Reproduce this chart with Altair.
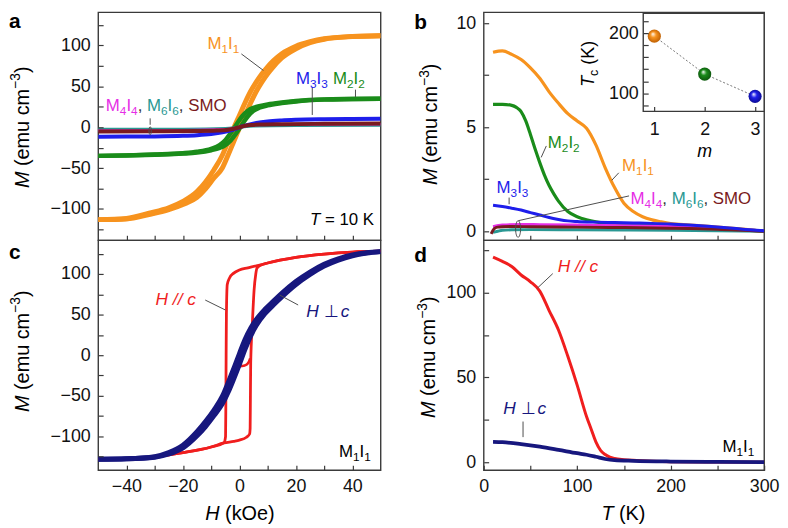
import altair as alt
import pandas as pd

FONT = "Liberation Sans"
AXC = "#3a3a3a"
LEAD = "#4d4d4d"
C_OR = "#F7931E"
C_GR = "#1A8C1A"
C_BL = "#1E1EEB"
C_MA = "#E62EE6"
C_TE = "#2A9893"
C_SM = "#7A1A20"
C_RD = "#F01E1E"
C_NV = "#17177E"

# ---------------- panel a : M(H) at T = 10 K ----------------
a_or_H = [-50, -40, -32, -25, -20, -15, -12, -9, -6, -4, -2, 0, 2, 4, 6, 8, 10, 12, 15, 20, 25, 30, 40, 50]
a_or_up = [-113, -112.1, -106.8, -100.9, -94.5, -85.7, -75.3, -62, -49.5, -34, -17.5, -1, 14.5, 30, 44, 55.5, 65.5, 74, 84.7, 96, 103.4, 107.7, 110.9, 112]
a_or_dn = [-113, -111.5, -105.1, -98.6, -90.8, -78.7, -67, -52, -34, -17.5, -1, 14.5, 30, 44, 55.5, 65.5, 74, 81.3, 90, 99.2, 104.6, 108.3, 111.1, 112]

a_gr_H = [-50, -40, -30, -20, -15, -10, -7, -5, -3, -1, 1, 3, 5, 7, 10, 15, 20, 30, 40, 50]
a_gr_up = [-35, -34.6, -33.6, -32.2, -30.9, -28.1, -25.2, -21.8, -15.8, -6.8, 3.8, 13.5, 20.3, 23.8, 26.7, 29.5, 31.6, 33.8, 34.45, 35]
a_gr_dn = [-35, -34.4, -33.3, -31.7, -29.9, -26.3, -21.8, -15.8, -6.8, 3.8, 13.5, 20.3, 23.8, 25.8, 28, 30.4, 32.2, 34.1, 34.6, 35]

a_bl_H = [-50, -40, -30, -20, -15, -10, -6, -3, -1, 0, 1, 3, 6, 10, 15, 20, 30, 40, 50]
a_bl_M = [-11.5, -11.4, -11.2, -10.5, -9.7, -8.3, -6.3, -3.8, -1.5, -0.3, 1, 3, 5.3, 7.2, 8.4, 9.1, 9.8, 10.2, 10.5]

a_sm_H = [-50, -30, -15, -8, -4, -2, 0, 2, 4, 8, 15, 30, 50]
a_sm_M = [-5.2, -5, -4.6, -4, -3, -1.8, 0, 1.8, 2.8, 3.4, 3.8, 4.2, 4.5]

a_ma_H = [-50, -20, -5, 0, 5, 20, 50]
a_ma_M = [-4, -3.5, -2.5, 0, 2.8, 3.3, 3.6]

a_te_H = [-50, -20, -5, 0, 5, 20, 50]
a_te_M = [-2.5, -2.3, -1.5, 0, 1.5, 2.2, 2.5]

# ---------------- panel c : M1I1 loops ----------------
c_rd_dn_H = [-50, -40, -30, -20, -10, -5.5, -4.9, -4.8, -4.7, -4.6, -4.3, -3.5, -2, 0, 3, 6, 8, 10, 20, 30, 40, 50]
c_rd_dn_M = [-128, -127, -125, -120, -113, -108, -100, -60, 0, 50, 87, 95, 101, 105, 107.5, 110, 111.5, 113.5, 120.5, 124.5, 127, 128]
c_rd_up_H = [-50, -40, -30, -20, -10, -5.5, -2, 0, 2.5, 3.6, 3.8, 3.9, 4.0, 4.6, 5.2, 5.8, 6.2, 8, 10, 20, 30, 40, 50]
c_rd_up_M = [-128, -127, -125, -120, -113, -108, -106, -104.5, -101, -97, -90, -50, -10, 40, 80, 100, 107, 111.5, 113.5, 120.5, 124.5, 127, 128]
c_rd_v_H = [0.2, 1.5, 2.6, 3.3, 3.8]
c_rd_v_M = [-13.5, -13, -11.5, -8.5, -4]

c_nv_H = [-50, -40, -30, -25, -20, -15, -12, -9, -6, -4, -2, 0, 2, 4, 6, 9, 12, 15, 20, 25, 30, 35, 40, 45, 50]
c_nv_up = [-128, -127.5, -125.6, -121.6, -114.1, -99.2, -87.8, -74.3, -59.5, -45.6, -29, -11.3, 7.4, 23.8, 36.8, 51, 61.7, 71.7, 86.9, 99.3, 109.6, 117, 122.3, 125.6, 127.5]
c_nv_dn = [-128, -127.4, -124.9, -119.9, -110.8, -94.2, -81.7, -67.5, -50.4, -34, -16.7, 1.7, 19.3, 33.2, 44, 56.3, 66.3, 76.1, 90.7, 102.4, 112, 118.7, 123.4, 126.2, 127.5]

# ---------------- panel b : M(T) ----------------
b_or_T = [10, 20, 30, 40, 50, 60, 70, 80, 90, 100, 110, 120, 130, 140, 150, 160, 170, 180, 190, 200, 220, 240, 260, 280, 300]
b_or_M = [8.6, 8.67, 8.5, 8.25, 7.85, 7.35, 6.7, 6.15, 5.65, 5.3, 4.95, 4.15, 3.05, 2.1, 1.35, 0.95, 0.7, 0.55, 0.45, 0.37, 0.3, 0.24, 0.17, 0.09, 0.0]
b_gr_T = [10, 20, 30, 35, 40, 45, 50, 55, 60, 65, 70, 75, 80, 90, 100, 110, 120, 140, 160, 180, 200, 250, 300]
b_gr_M = [6.1, 6.1, 6.05, 5.95, 5.75, 5.3, 4.65, 3.95, 3.3, 2.7, 2.2, 1.8, 1.45, 0.95, 0.7, 0.55, 0.45, 0.35, 0.3, 0.27, 0.24, 0.15, 0.0]
b_bl_T = [10, 20, 30, 40, 50, 60, 70, 80, 90, 100, 120, 140, 160, 180, 200, 220, 240, 260, 280, 300]
b_bl_M = [1.25, 1.19, 1.11, 1.02, 0.9, 0.78, 0.66, 0.57, 0.5, 0.47, 0.44, 0.42, 0.4, 0.38, 0.35, 0.3, 0.24, 0.17, 0.09, 0.02]
b_sm_T = [8, 10, 12, 15, 20, 30, 50, 100, 150, 200, 250, 300]
b_sm_M = [-0.12, 0.05, 0.15, 0.2, 0.22, 0.23, 0.22, 0.2, 0.18, 0.15, 0.1, 0.0]
b_ma_T = [10, 20, 40, 60, 100, 150, 200, 250, 300]
b_ma_M = [0.22, 0.3, 0.33, 0.32, 0.3, 0.27, 0.23, 0.15, 0.02]
b_te_T = [10, 15, 20, 30, 50, 100, 150, 200, 250, 300]
b_te_M = [-0.05, 0.0, 0.05, 0.07, 0.08, 0.07, 0.06, 0.05, 0.03, 0.0]

# inset: Tc vs m
inset_m = [1, 2, 3]
inset_Tc = [195, 132, 95]
inset_col = [C_OR, C_GR, C_BL]
inset_dark = ["#B85A00", "#0B4F0B", "#0A0A8A"]

# ---------------- panel d : M1I1 M(T) ----------------
d_rd_T = [10, 20, 30, 40, 50, 60, 70, 80, 90, 100, 110, 115, 120, 125, 130, 135, 140, 150, 160, 180, 200, 250, 300]
d_rd_M = [121, 118.5, 115.5, 110.5, 106.5, 101, 89.5, 78, 62.5, 45.5, 27, 19.5, 12, 7, 4.5, 3, 2.2, 1.5, 1.1, 0.6, 0.3, 0.1, 0]
d_nv_T = [10, 20, 40, 60, 80, 100, 110, 120, 130, 140, 160, 200, 250, 300]
d_nv_M = [12, 11.8, 10.7, 9.2, 7.3, 5.3, 4.4, 3.2, 1.9, 1.2, 0.8, 0.4, 0.2, 0.1]

# ---------------- helpers ----------------
W = {" ": 278, "(": 333, ")": 333, ",": 278, "/": 278, "=": 584, "\u2212": 584,
     "M": 833, "I": 278, "S": 667, "O": 778, "H": 722, "T": 611, "K": 667,
     "k": 500, "e": 556, "m": 833, "u": 556, "c": 500, "\u22a5": 700,
     "a": 556, "b": 556, "d": 556}


def tw(s, size):
    return sum(W.get(ch, 556) for ch in s) * size / 1000.0


ONE = alt.Data(values=[{"k": 0}])


def rich(pieces, x, y, size=17, align="left", angle=0, pix=False, weight="normal", XA=None, YA=None):
    sizes = [size * 0.7 if p[1] in ("sub", "sup") else size for p in pieces]
    widths = [tw(p[0], s) for p, s in zip(pieces, sizes)]
    total = sum(widths)
    off = {"left": 0, "center": -total / 2, "right": -total}[align]
    out = []
    for p, s, w in zip(pieces, sizes, widths):
        raw, kind = p[0], p[1]
        lead = len(raw) - len(raw.lstrip(" "))
        t = raw.strip(" ")
        col = p[2] if len(p) > 2 else "#000000"
        dy = 0.25 * size if kind == "sub" else (-0.42 * size if kind == "sup" else 0)
        style = "italic" if kind == "i" else "normal"
        if t:
            m = alt.Chart(ONE).mark_text(text=t, align="left", baseline="alphabetic",
                                         dx=off + tw(" " * lead, s), dy=dy,
                                         fontSize=s, font=FONT, fontStyle=style, fontWeight=weight,
                                         color=col, angle=angle)
            if pix:
                m = m.encode(x=alt.value(x), y=alt.value(y))
            else:
                m = m.encode(x=alt.XDatum(x, axis=XA), y=alt.YDatum(y, axis=YA))
            out.append(m)
        off += w
    return out


def leader(x1, y1, x2, y2, XA, YA, color=LEAD):
    return alt.Chart(ONE).mark_rule(color=color, strokeWidth=1).encode(
        x=alt.XDatum(x1, axis=XA), y=alt.YDatum(y1, axis=YA),
        x2=alt.X2Datum(x2), y2=alt.Y2Datum(y2))


ELL = "M0,-1A0.3,1 0 1,1 0,1A0.3,1 0 1,1 0,-1Z"


def ellipse(x, y, size, XA, YA):
    return alt.Chart(ONE).mark_point(shape=ELL, size=size, filled=False, stroke=LEAD, strokeWidth=1, opacity=1).encode(
        x=alt.XDatum(x, axis=XA), y=alt.YDatum(y, axis=YA))


def ax(values, mod=None, labels=True, offset=-5, pad=8, orient=None):
    kw = dict(values=values, tickSize=5, offset=offset, domain=False, grid=False, title=None,
              labelPadding=pad, labelFlush=False, labelOverlap=False, labelFont=FONT,
              labelFontSize=18, labelColor="#111111", tickColor=AXC, tickWidth=1.2, format="d", zindex=1)
    if not labels:
        kw["labels"] = False
    elif mod:
        kw["labelExpr"] = "datum.value %% %s === 0 ? datum.label : ''" % mod
    if orient:
        kw["orient"] = orient
    return alt.Axis(**kw)


def curve(xs, ys, color, width, XS, YS, XA, YA):
    df = pd.DataFrame({"x": xs, "y": ys, "i": list(range(len(xs)))})
    return alt.Chart(df).mark_line(color=color, strokeWidth=width, interpolate="monotone", clip=True,
                                   strokeJoin="round").encode(
        x=alt.X("x:Q", scale=XS, axis=XA), y=alt.Y("y:Q", scale=YS, axis=YA), order="i:Q")


def sub2(a, b, col):
    return [("M", "n", col), (a, "sub", col), ("I", "n", col), (b, "sub", col)]


MULTI = sub2("4", "4", C_MA) + [(", ", "n", "#333333")] + sub2("6", "6", C_TE) + \
        [(", ", "n", "#333333"), ("SMO", "n", C_SM)]
YTITLE = [("M", "i"), (" (emu cm", "n"), ("\u22123", "sup"), (")", "n")]

# ---------------- panel a ----------------
XSa = alt.Scale(domain=[-50, 50], nice=False, zero=False)
YSa = alt.Scale(domain=[-138.2, 140.6], nice=False, zero=False)
XAa = ax(list(range(-40, 41, 10)), labels=False)
YAa = ax(list(range(-125, 126, 25)), mod=50)
A = dict(XA=XAa, YA=YAa)
la = [
    curve(a_or_H, a_or_up, C_OR, 5, XSa, YSa, XAa, YAa),
    curve(a_or_H, a_or_dn, C_OR, 5, XSa, YSa, XAa, YAa),
    curve(a_gr_H, a_gr_up, C_GR, 4.5, XSa, YSa, XAa, YAa),
    curve(a_gr_H, a_gr_dn, C_GR, 4.5, XSa, YSa, XAa, YAa),
    curve(a_bl_H, a_bl_M, C_BL, 4, XSa, YSa, XAa, YAa),
    curve(a_te_H, a_te_M, C_TE, 3, XSa, YSa, XAa, YAa),
    curve(a_ma_H, a_ma_M, C_MA, 2.5, XSa, YSa, XAa, YAa),
    curve(a_sm_H, a_sm_M, C_SM, 4, XSa, YSa, XAa, YAa),
    leader(0.7, 89.7, 8.5, 69.5, **A),
    leader(25.8, 48.5, 25.8, 15, **A),
    leader(41.1, 46, 41.1, 37, **A),
    leader(-31.6, 10.9, -31.6, 3, **A),
    ellipse(-31.6, -4.2, 64, **A),
]
la += rich(sub2("1", "1", C_OR), -11.3, 95.8, **A)
la += rich(sub2("3", "3", C_BL), 20, 53.3, **A)
la += rich(sub2("2", "2", C_GR), 33.1, 53.3, **A)
la += rich(MULTI, -47.3, 20.2, **A)
la += rich([("T", "i"), (" = 10 K", "n")], 47.7, -120, align="right", **A)
la += rich([("a", "n")], -90, 16, size=21, pix=True, weight="bold")
la += rich(YTITLE, -70, 116, size=20, align="center", angle=270, pix=True)
panel_a = alt.layer(*la).properties(width=285, height=230)

# ---------------- panel c ----------------
XSc = alt.Scale(domain=[-50, 50], nice=False, zero=False)
YSc = alt.Scale(domain=[-141.5, 141.5], nice=False, zero=False)
XAc = ax(list(range(-40, 41, 10)), mod=20)
YAc = ax(list(range(-125, 126, 25)), mod=50)
Cc = dict(XA=XAc, YA=YAc)
lc = [
    curve(c_rd_dn_H, c_rd_dn_M, C_RD, 2.8, XSc, YSc, XAc, YAc),
    curve(c_rd_up_H, c_rd_up_M, C_RD, 2.8, XSc, YSc, XAc, YAc),
    curve(c_rd_v_H, c_rd_v_M, C_RD, 2.5, XSc, YSc, XAc, YAc),
    curve(c_nv_H, c_nv_up, C_NV, 5, XSc, YSc, XAc, YAc),
    curve(c_nv_H, c_nv_dn, C_NV, 5, XSc, YSc, XAc, YAc),
    leader(-12.1, 67.9, -5.0, 55.7, **Cc),
    leader(14.3, 74, 20.8, 61.8, **Cc),
]
lc += rich([("H", "i", C_RD), (" // ", "i", C_RD), ("c", "i", C_RD)], -29.7, 61.8, size=17.5, **Cc)
lc += rich([("H", "i", C_NV), (" \u22a5 ", "n", C_NV), ("c", "i", C_NV)], 23.7, 47.6, size=17.5, **Cc)
lc += rich(sub2("1", "1", "#000000"), 46.5, -125, align="right", **Cc)
lc += rich([("c", "n")], -90, 19, size=21, pix=True, weight="bold")
lc += rich(YTITLE, -70, 112, size=20, align="center", angle=270, pix=True)
lc += rich([("H", "i"), (" (kOe)", "n")], 143, 282, size=20, align="center", pix=True)
panel_c = alt.layer(*lc).properties(width=285, height=232)

# ---------------- panel b ----------------
XSb = alt.Scale(domain=[0, 300], nice=False, zero=False)
YSb = alt.Scale(domain=[-0.43, 10.52], nice=False, zero=False)
XAb = ax(list(range(50, 251, 50)), labels=False)
YAb = ax([0, 2.5, 5, 7.5, 10], mod=5)
B = dict(XA=XAb, YA=YAb)
lb = [
    curve(b_or_T, b_or_M, C_OR, 3.2, XSb, YSb, XAb, YAb),
    curve(b_gr_T, b_gr_M, C_GR, 3.2, XSb, YSb, XAb, YAb),
    curve(b_ma_T, b_ma_M, C_MA, 3, XSb, YSb, XAb, YAb),
    curve(b_te_T, b_te_M, C_TE, 3, XSb, YSb, XAb, YAb),
    curve(b_sm_T, b_sm_M, C_SM, 3, XSb, YSb, XAb, YAb),
    curve(b_bl_T, b_bl_M, C_BL, 3, XSb, YSb, XAb, YAb),
    leader(67, 4.1, 61.5, 3.55, **B),
    leader(144.5, 2.81, 137, 2.45, **B),
    leader(27.2, 1.62, 27.2, 1.3, **B),
    leader(155.5, 1.7, 37.1, 0.51, **B),
    ellipse(36.8, 0.11, 279, **B),
]
lb += rich(sub2("2", "2", C_GR), 68.6, 4.0, **B)
lb += rich(sub2("1", "1", C_OR), 148, 2.89, **B)
lb += rich(sub2("3", "3", C_BL), 13.8, 1.86, **B)
lb += rich(MULTI, 157, 1.3, **B)
lb += rich([("b", "n")], -70, 17, size=21, pix=True, weight="bold")
lb += rich(YTITLE, -47, 113, size=20, align="center", angle=270, pix=True)
main_b = alt.layer(*lb)

XSi = alt.Scale(domain=[0.78, 3.18], range=[161, 283], nice=False, zero=False)
YSi = alt.Scale(domain=[70, 233], range=[100, 1], nice=False, zero=False)
XAi = ax([1, 2, 3], offset=-135, pad=9, orient="bottom")
YAi = ax(list(range(80, 221, 20)), mod=100, offset=-166, pad=5, orient="left")
inset_df = pd.DataFrame({"m": inset_m, "Tc": inset_Tc})
frame = alt.Chart(ONE).mark_rect(fill="white", stroke=AXC, strokeWidth=1.4).encode(
    x=alt.XDatum(0.78, axis=XAi), x2=alt.X2Datum(3.18),
    y=alt.YDatum(70, axis=YAi), y2=alt.Y2Datum(233))
dots = alt.Chart(inset_df).mark_line(color="#777777", strokeWidth=1, strokeDash=[2, 2]).encode(
    x=alt.X("m:Q", scale=XSi, axis=XAi), y=alt.Y("Tc:Q", scale=YSi, axis=YAi))
li = [frame, dots]
for mval, col, dark in zip(inset_m, inset_col, inset_dark):
    grad = {"gradient": "radial", "x1": 0.38, "y1": 0.32, "r1": 0.0, "x2": 0.5, "y2": 0.5, "r2": 0.55,
            "stops": [{"offset": 0, "color": "#ffffff"}, {"offset": 0.4, "color": col},
                      {"offset": 1, "color": dark}]}
    li.append(alt.Chart(inset_df).transform_filter(alt.datum.m == mval).mark_circle(
        size=175, fill=grad, opacity=1).encode(
        x=alt.X("m:Q", scale=XSi, axis=XAi), y=alt.Y("Tc:Q", scale=YSi, axis=YAi)))
li += rich([("T", "i"), ("c", "sub"), (" (K)", "n")], 111, 52, size=18, align="center", angle=270, pix=True)
li += rich([("m", "i")], 223, 146, size=18, align="center", pix=True)
inset = alt.layer(*li)

panel_b = alt.layer(main_b, inset).resolve_scale(x="independent", y="independent").properties(width=283, height=230)

# ---------------- panel d ----------------
XSd = alt.Scale(domain=[0, 300], nice=False, zero=False)
YSd = alt.Scale(domain=[-4.7, 131], nice=False, zero=False)
XAd = ax(list(range(0, 301, 50)), mod=100)
YAd = ax(list(range(0, 126, 25)), mod=50)
D = dict(XA=XAd, YA=YAd)
ld = [
    curve(d_rd_T, d_rd_M, C_RD, 3, XSd, YSd, XAd, YAd),
    curve(d_nv_T, d_nv_M, C_NV, 3.8, XSd, YSd, XAd, YAd),
    leader(73.9, 111.3, 57.5, 102.8, **D),
    leader(42.1, 24, 42.1, 14.8, **D),
]
ld += rich([("H", "i", C_RD), (" // ", "i", C_RD), ("c", "i", C_RD)], 79.2, 112.3, size=17.5, **D)
ld += rich([("H", "i", C_NV), (" \u22a5 ", "n", C_NV), ("c", "i", C_NV)], 20.9, 28.7, size=17.5, **D)
ld += rich(sub2("1", "1", "#000000"), 289.4, 6.0, align="right", **D)
ld += rich([("d", "n")], -70, 22, size=21, pix=True, weight="bold")
ld += rich(YTITLE, -49, 118, size=20, align="center", angle=270, pix=True)
ld += rich([("T", "i"), (" (K)", "n")], 141, 282, size=20, align="center", pix=True)
panel_d = alt.layer(*ld).properties(width=283, height=232)

chart = alt.concat(panel_a, panel_b, panel_c, panel_d, columns=2,
                   spacing=alt.RowColnumber(row=0, column=104), bounds="flush").properties(
    padding=0).configure_view(stroke=AXC, strokeWidth=1.4)

chart.save("out.html", embed_options={"renderer": "svg", "actions": False})
